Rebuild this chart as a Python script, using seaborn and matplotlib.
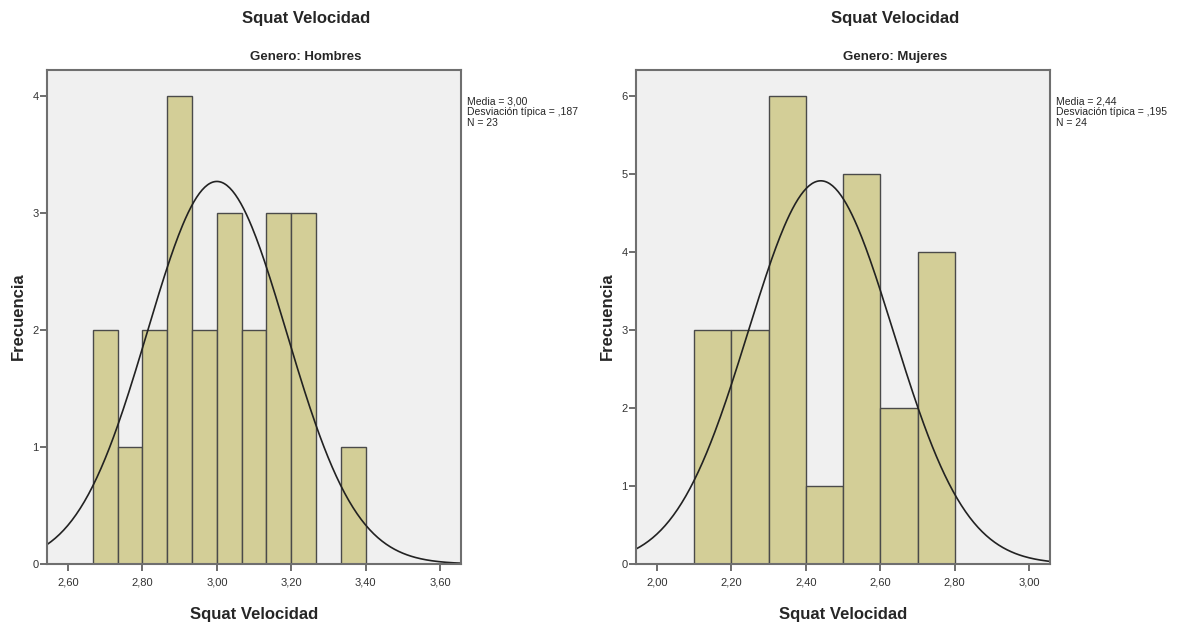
import numpy as np
import pandas as pd
import seaborn as sns
import matplotlib.pyplot as plt

# Datos (SPSS)
edges_h = [2.6667, 2.7333, 2.8, 2.8667, 2.9333, 3.0, 3.0667, 3.1333, 3.2, 3.2667, 3.3333, 3.4]
counts_h = [2, 1, 2, 4, 2, 3, 2, 3, 3, 0, 1]
edges_m = [2.1, 2.2, 2.3, 2.4, 2.5, 2.6, 2.7, 2.8]
counts_m = [3, 3, 6, 1, 5, 2, 4]

media = [3.00, 2.44]
desv = [0.187, 0.195]
n = [23, 24]
generos = ["Hombres", "Mujeres"]
xticks_h = [2.6, 2.8, 3.0, 3.2, 3.4, 3.6]
xticks_m = [2.0, 2.2, 2.4, 2.6, 2.8, 3.0]
xlims = [(2.5435, 3.656), (1.9435, 3.056)]
ylims = [4.22, 6.33]
yticks = [[0, 1, 2, 3, 4], [0, 1, 2, 3, 4, 5, 6]]

sns.set_style("white")
plt.rcParams["font.family"] = ["Liberation Sans", "DejaVu Sans"]

fig = plt.figure(figsize=(11.77, 6.24), dpi=100)
positions = [[47 / 1177, 60 / 624, 414 / 1177, 494 / 624],
             [636 / 1177, 60 / 624, 414 / 1177, 494 / 624]]

datasets = [(edges_h, counts_h, xticks_h), (edges_m, counts_m, xticks_m)]

for i, (edges, counts, xt) in enumerate(datasets):
    ax = fig.add_axes(positions[i])
    ax.set_facecolor("#F0F0F0")
    centers = [(edges[k] + edges[k + 1]) / 2 for k in range(len(counts))]
    df = pd.DataFrame({"x": centers, "w": counts})
    sns.histplot(data=df, x="x", weights="w", bins=edges, ax=ax,
                 color="#D3CE97", alpha=1, edgecolor="#4a4a4a", linewidth=1)
    # curva normal
    bw = edges[1] - edges[0]
    xs = np.linspace(xlims[i][0], xlims[i][1], 300)
    ys = n[i] * bw * np.exp(-0.5 * ((xs - media[i]) / desv[i]) ** 2) / (desv[i] * np.sqrt(2 * np.pi))
    ax.plot(xs, ys, color="#222222", lw=1.2)

    ax.set_xlim(*xlims[i])
    ax.set_ylim(0, ylims[i])
    ax.set_xticks(xt)
    ax.set_xticklabels([f"{v:.2f}".replace(".", ",") for v in xt], fontsize=8, color="#333333")
    ax.set_yticks(yticks[i])
    ax.set_yticklabels([str(v) for v in yticks[i]], fontsize=8, color="#333333")
    ax.tick_params(axis="both", direction="out", length=5, width=1.2, color="#555555",
                   bottom=True, left=True, pad=1)
    ax.tick_params(axis="x", pad=5)
    for s in ax.spines.values():
        s.set_color("#6f6f6f")
        s.set_linewidth(1.5)

    ax.set_xlabel("Squat Velocidad", fontsize=12, fontweight="bold", labelpad=14)
    ax.set_ylabel("")
    fig.text((positions[i][0] * 1177 - 29) / 1177, 1 - 316 / 624, "Frecuencia",
             rotation=90, ha="center", va="center", fontsize=12, fontweight="bold")

    # títulos
    cx = positions[i][0] + 259 / 1177
    fig.text(cx, 1 - 19 / 624, "Squat Velocidad", ha="center", va="center",
             fontsize=12, fontweight="bold")
    fig.text(cx, 1 - 57 / 624, f"Genero: {generos[i]}", ha="center", va="center",
             fontsize=9.5, fontweight="bold")

    # estadísticos
    tx = positions[i][0] + 420 / 1177
    fig.text(tx, 1 - 96 / 624,
             f"Media = {media[i]:.2f}".replace(".", ",") + "\n"
             + f"Desviación típica = ,{int(round(desv[i] * 1000))}" + "\n"
             + f"N = {n[i]}",
             ha="left", va="top", fontsize=7.5, linespacing=1.15)

fig.savefig("out.png", dpi=100)
